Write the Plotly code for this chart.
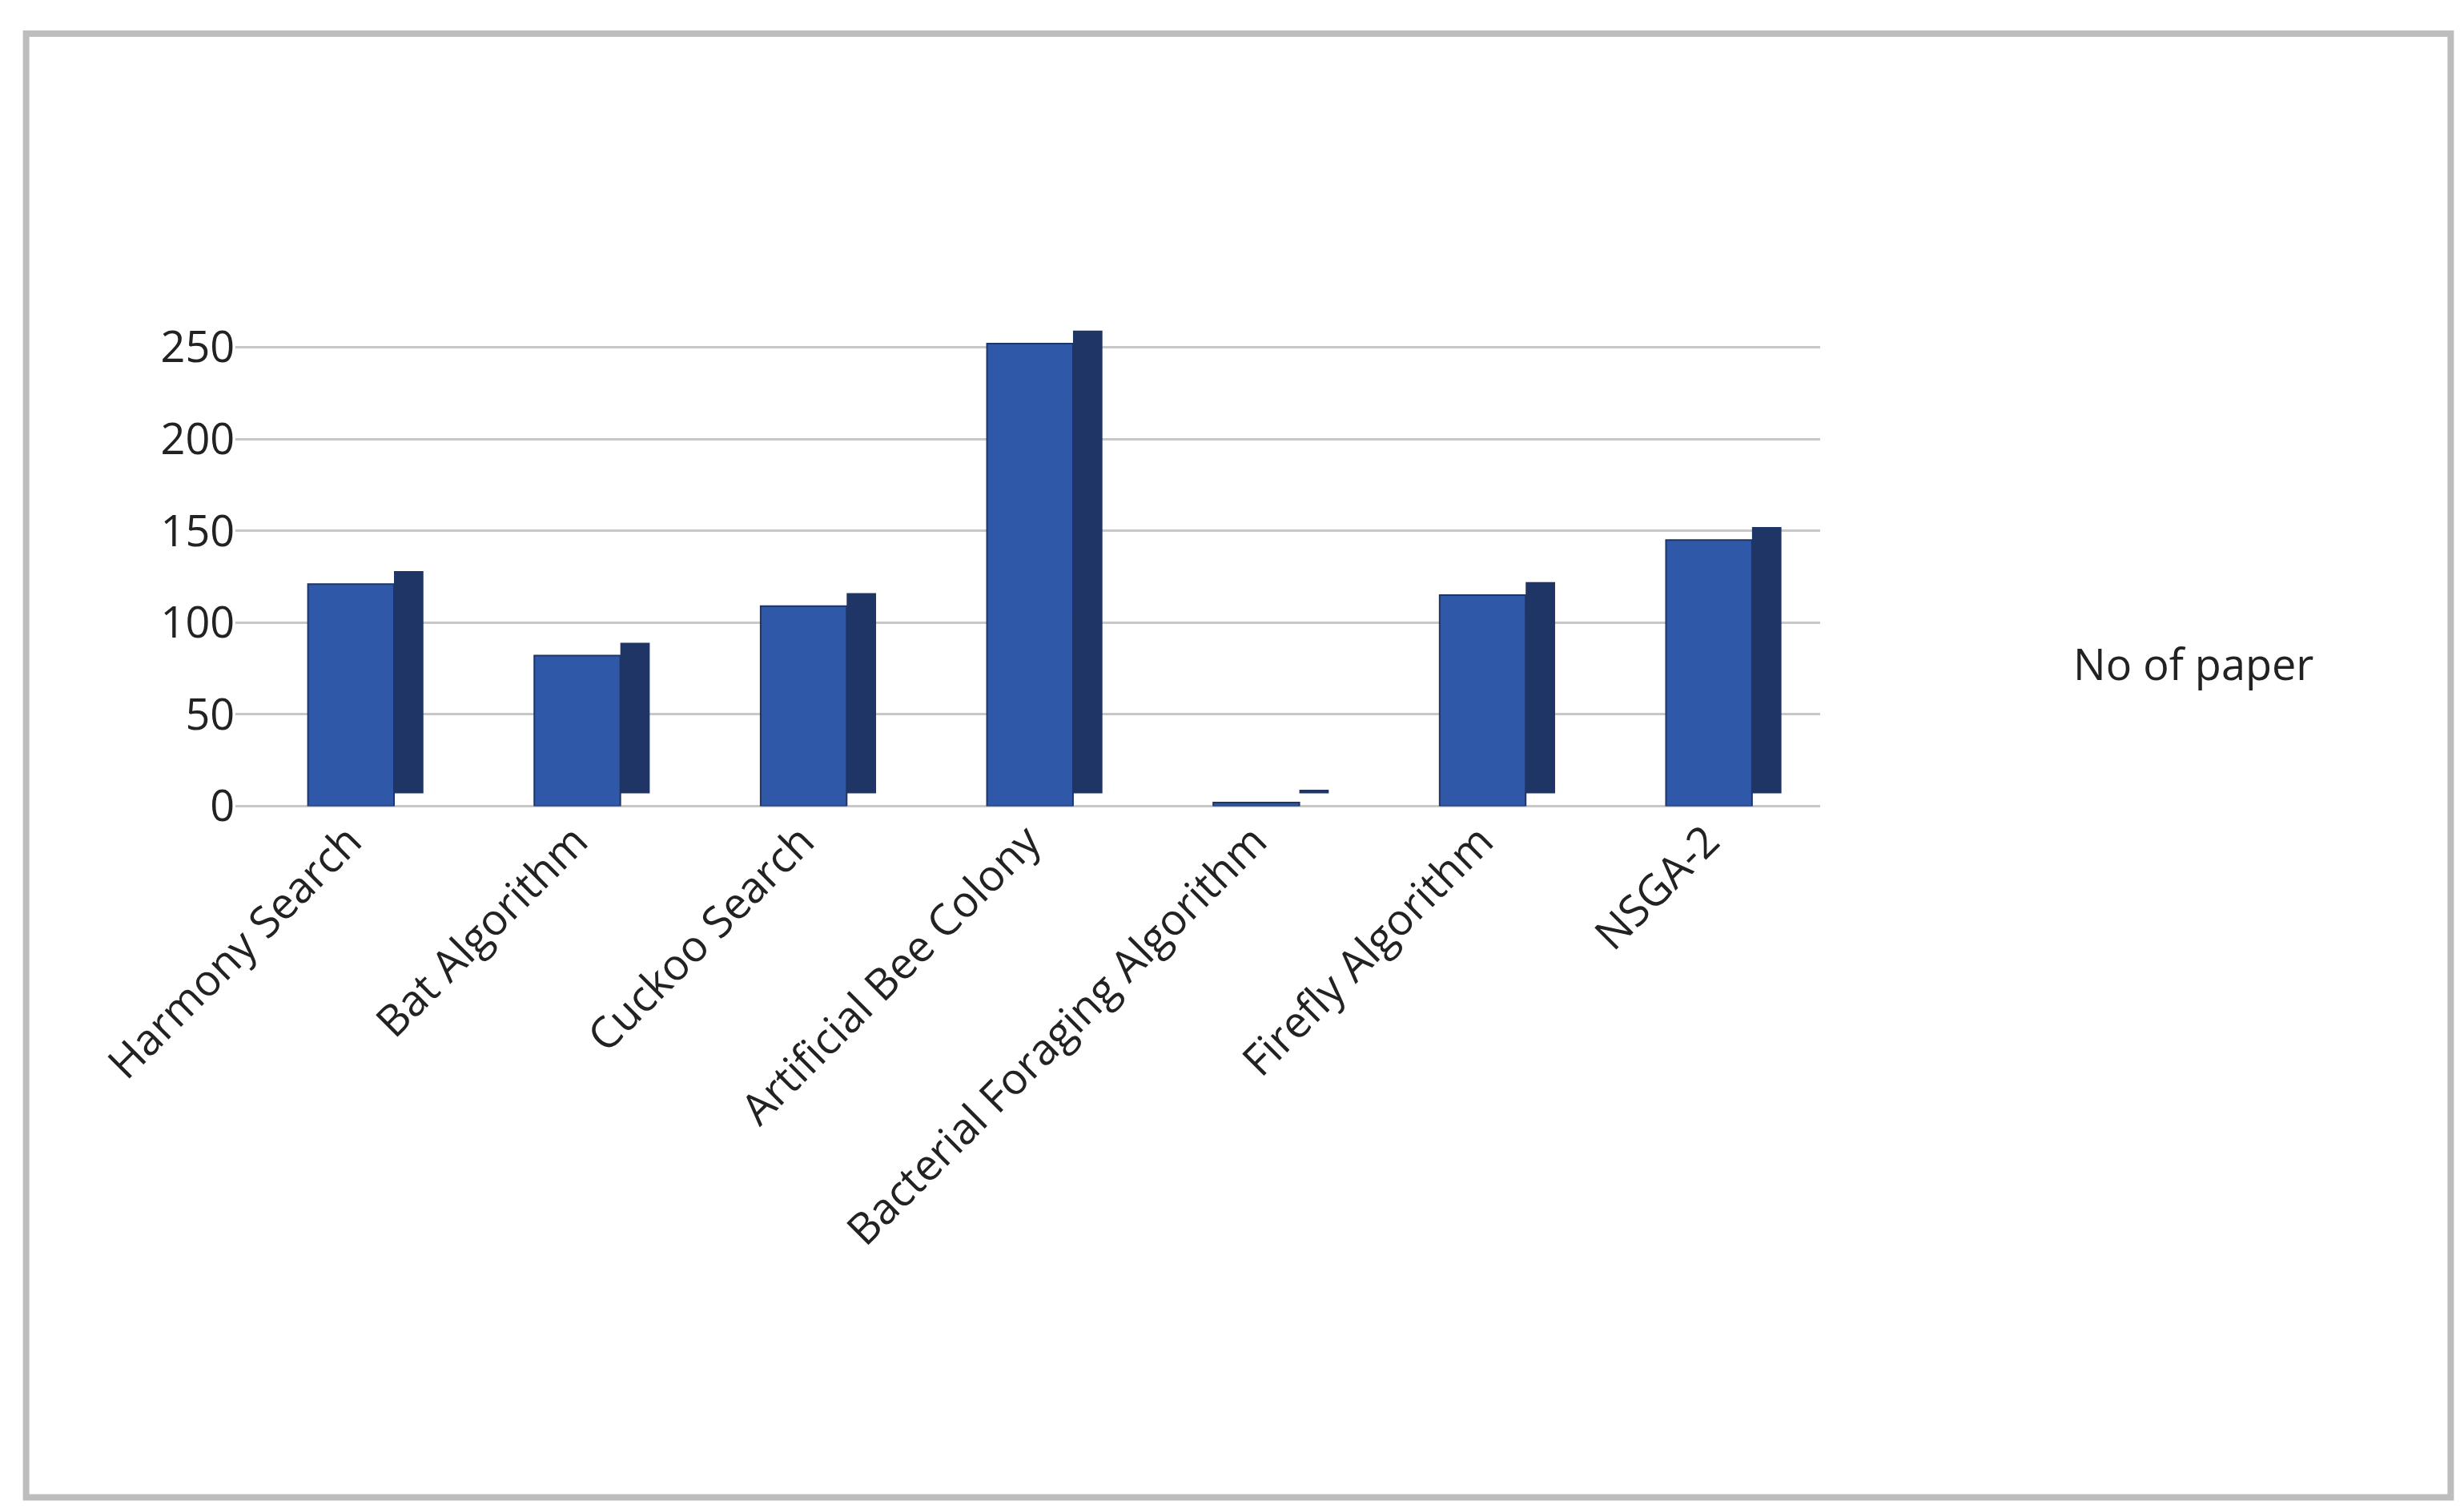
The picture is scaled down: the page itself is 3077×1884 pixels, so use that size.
import plotly.graph_objects as go

categories = ["Harmony Search", "Bat Algorithm", "Cuckoo Search", "Artificial Bee Colony",
              "Bacterial Foraging Algorithm", "Firefly Algorithm", "NSGA-2"]
values = [121, 82, 109, 252, 2, 115, 145]
series_name = "No of paper"
tick_vals = [0, 50, 100, 150, 200, 250]

fig = go.Figure()
# dark side faces (depth effect)
fig.add_trace(go.Bar(x=categories, y=values, base=7, offset=0.2, width=0.13,
                     marker=dict(color="#1F3566", line=dict(width=0)),
                     showlegend=False, hoverinfo="skip"))
# front faces
fig.add_trace(go.Bar(x=categories, y=values, offset=-0.18, width=0.38, name=series_name,
                     showlegend=False,
                     marker=dict(color="#2F58A8", line=dict(color="#1F3566", width=2))))

fig.update_layout(
    width=3077, height=1884, barmode="overlay",
    paper_bgcolor="white", plot_bgcolor="white",
    font=dict(family="Open Sans, DejaVu Sans", size=54, color="#222"),
    margin=dict(l=0, r=0, t=0, b=0),
    xaxis=dict(tickangle=-45, showgrid=False, showline=False, domain=[0.093, 0.736],
               automargin=False),
    yaxis=dict(range=[0, 300], tickvals=tick_vals, showgrid=True, gridcolor="#C8C8C8",
               gridwidth=3, zeroline=True, zerolinecolor="#C8C8C8", zerolinewidth=3,
               domain=[0.47, 0.835], automargin=False, ticks="", ticklen=0),
    showlegend=False,
    annotations=[dict(text=series_name, xref="paper", yref="paper", x=0.838, y=0.565,
                      xanchor="left", yanchor="middle", showarrow=False,
                      font=dict(size=54, color="#222"))],
    shapes=[dict(type="rect", xref="paper", yref="paper", x0=0.008, y0=0.012, x1=0.992, y1=0.982,
                 line=dict(color="#BDBDBD", width=8))],
)
fig.write_html("out.html")
